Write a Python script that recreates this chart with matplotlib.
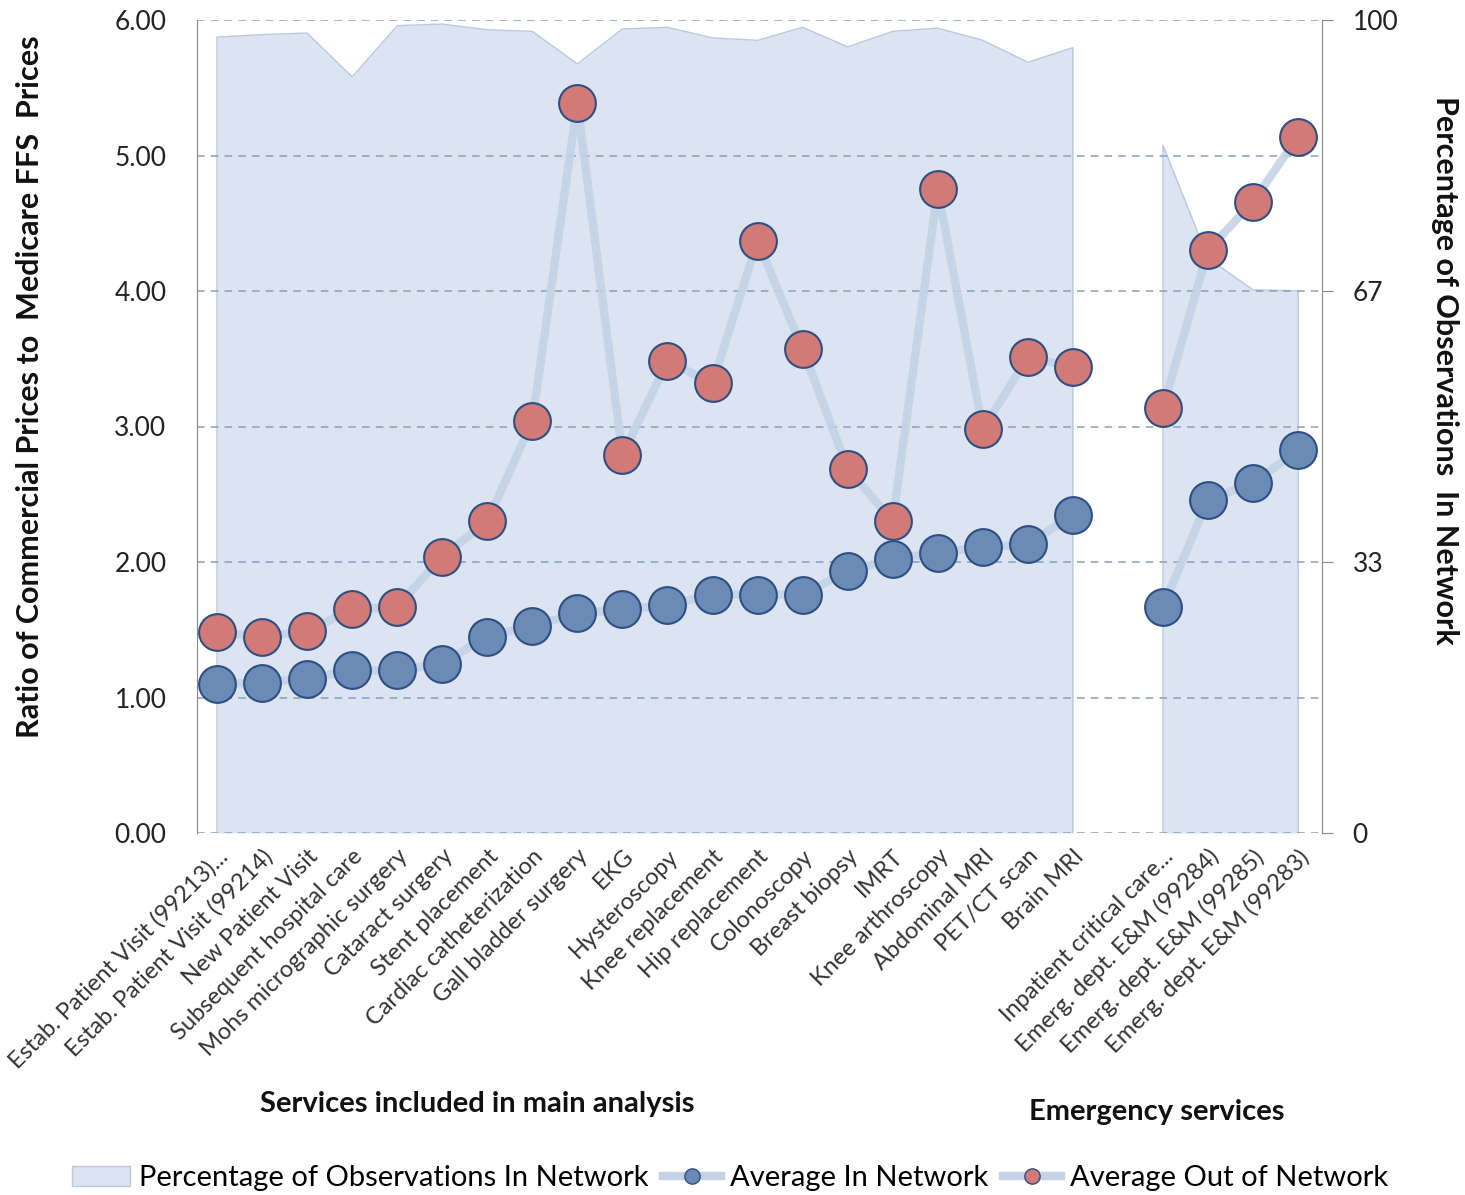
import matplotlib
matplotlib.use('Agg')
import matplotlib.pyplot as plt
import numpy as np
from matplotlib.patches import Patch
from matplotlib.lines import Line2D

services = ['Estab. Patient Visit (99213)...', 'Estab. Patient Visit (99214)', 'New Patient Visit',
            'Subsequent hospital care', 'Mohs micrographic surgery', 'Cataract surgery',
            'Stent placement', 'Cardiac catheterization', 'Gall bladder surgery', 'EKG',
            'Hysteroscopy', 'Knee replacement', 'Hip replacement', 'Colonoscopy', 'Breast biopsy',
            'IMRT', 'Knee arthroscopy', 'Abdominal MRI', 'PET/CT scan', 'Brain MRI']
emergency = ['Inpatient critical care...', 'Emerg. dept. E&M (99284)', 'Emerg. dept. E&M (99285)',
             'Emerg. dept. E&M (99283)']

main_in = [1.10, 1.11, 1.14, 1.20, 1.20, 1.25, 1.45, 1.53, 1.62, 1.65,
           1.68, 1.76, 1.76, 1.76, 1.93, 2.02, 2.07, 2.11, 2.13, 2.35]
main_out = [1.48, 1.45, 1.49, 1.65, 1.67, 2.04, 2.30, 3.04, 5.39, 2.79,
            3.48, 3.32, 4.37, 3.57, 2.69, 2.30, 4.75, 2.98, 3.51, 3.44]
main_pct = [97.9, 98.2, 98.4, 93.0, 99.3, 99.5, 98.8, 98.6, 94.6, 98.9,
            99.1, 97.8, 97.5, 99.1, 96.7, 98.6, 99.0, 97.5, 94.8, 96.6]

em_in = [1.67, 2.46, 2.58, 2.83]
em_out = [3.14, 4.30, 4.66, 5.14]
em_pct = [84.6, 70.7, 66.8, 66.7]

plt.rcParams['font.family'] = ['Lato', 'DejaVu Sans']

fig = plt.figure(figsize=(14.65, 11.95), dpi=100)
ax2 = fig.add_axes([197 / 1465, 1 - 833 / 1195, 1125 / 1465, 813 / 1195])
ax = ax2.twinx()
ax.yaxis.tick_left()
ax.yaxis.set_label_position('left')
ax2.yaxis.tick_right()
ax2.yaxis.set_label_position('right')
ax.set_zorder(ax2.get_zorder() + 1)
ax.patch.set_visible(False)

x_main = np.arange(len(services))
x_em = np.arange(len(emergency)) + len(services) + 1

# percentage area (right axis)
area_col = '#dbe4f0'
area_edge = '#b9c9df'
for xs, ps in [(x_main, main_pct), (x_em, em_pct)]:
    ax2.fill_between(xs, 0, ps, color=area_col, lw=0)
    ax2.plot(np.r_[xs[0], xs, xs[-1]], np.r_[0, ps, 0], color=area_edge, lw=1)

# price ratios (left axis)
line_col = '#c3d2e6'
in_face = '#6a8bb5'
out_face = '#d27a78'
edge = '#2e4f82'
for xs, vin, vout in [(x_main, main_in, main_out), (x_em, em_in, em_out)]:
    ax.plot(xs, vin, color=line_col, lw=6, alpha=0.85, solid_capstyle='round', zorder=2)
    ax.plot(xs, vout, color=line_col, lw=6, alpha=0.85, solid_capstyle='round', zorder=2)
    ax.scatter(xs, vin, s=700, facecolor=in_face, edgecolor=edge, lw=1.5, zorder=3)
    ax.scatter(xs, vout, s=700, facecolor=out_face, edgecolor=edge, lw=1.5, zorder=3)

xlim = (-0.444, 24.53)
ax2.set_xlim(xlim)
ax.set_ylim(0, 6)
ax2.set_ylim(0, 100)

ax.set_yticks(np.arange(0, 7))
ax.set_yticklabels([f'{v:.2f}' for v in range(7)], fontsize=19, color='#222222')
ax.tick_params(axis='y', length=0, pad=22)
ax.grid(axis='y', color='#8a9fbf', linestyle=(0, (5, 4)), lw=1.1)

ax2.set_yticks([0, 100 / 3, 200 / 3, 100])
ax2.set_yticklabels(['0', '33', '67', '100'], fontsize=19, color='#222222')
ax2.tick_params(axis='y', length=8, color='#888888', pad=14)

ax2.set_xticks(list(x_main) + list(x_em))
ax2.set_xticklabels(services + emergency, rotation=45, ha='right', va='top',
                    rotation_mode='anchor', fontsize=17, color='#333333')
ax2.tick_params(axis='x', length=0, pad=9)

for a in (ax, ax2):
    a.spines['top'].set_visible(False)
    a.spines['bottom'].set_visible(False)
    a.spines['left'].set_color('#888888')
    a.spines['right'].set_color('#888888')
ax2.spines['left'].set_visible(False)
ax.spines['right'].set_visible(False)

fig.text(30 / 1465, 1 - 387 / 1195, 'Ratio of Commercial Prices to  Medicare FFS  Prices',
         rotation=90, ha='center', va='center', fontsize=22, fontweight='bold', color='#111111')
fig.text(1445 / 1465, 1 - 370 / 1195, 'Percentage of Observations  In Network',
         rotation=-90, ha='center', va='center', fontsize=22, fontweight='bold', color='#111111')

fig.text(477 / 1465, 1 - 1104 / 1195, 'Services included in main analysis',
         ha='center', va='center', fontsize=21, fontweight='bold', color='#111111')
fig.text(1157 / 1465, 1 - 1112 / 1195, 'Emergency services',
         ha='center', va='center', fontsize=21, fontweight='bold', color='#111111')

handles = [Patch(facecolor=area_col, edgecolor=area_edge, lw=1),
           Line2D([], [], color=line_col, lw=6, marker='o', markersize=11,
                  markerfacecolor=in_face, markeredgecolor=edge),
           Line2D([], [], color=line_col, lw=6, marker='o', markersize=11,
                  markerfacecolor=out_face, markeredgecolor=edge)]
fig.legend(handles, ['Percentage of Observations In Network', 'Average In Network',
                     'Average Out of Network'],
           loc='center', bbox_to_anchor=(730 / 1465, 1 - 1178 / 1195), ncol=3, frameon=False,
           fontsize=21, handlelength=2.0, handletextpad=0.3, columnspacing=0.5)

fig.savefig('out.png', dpi=100)
